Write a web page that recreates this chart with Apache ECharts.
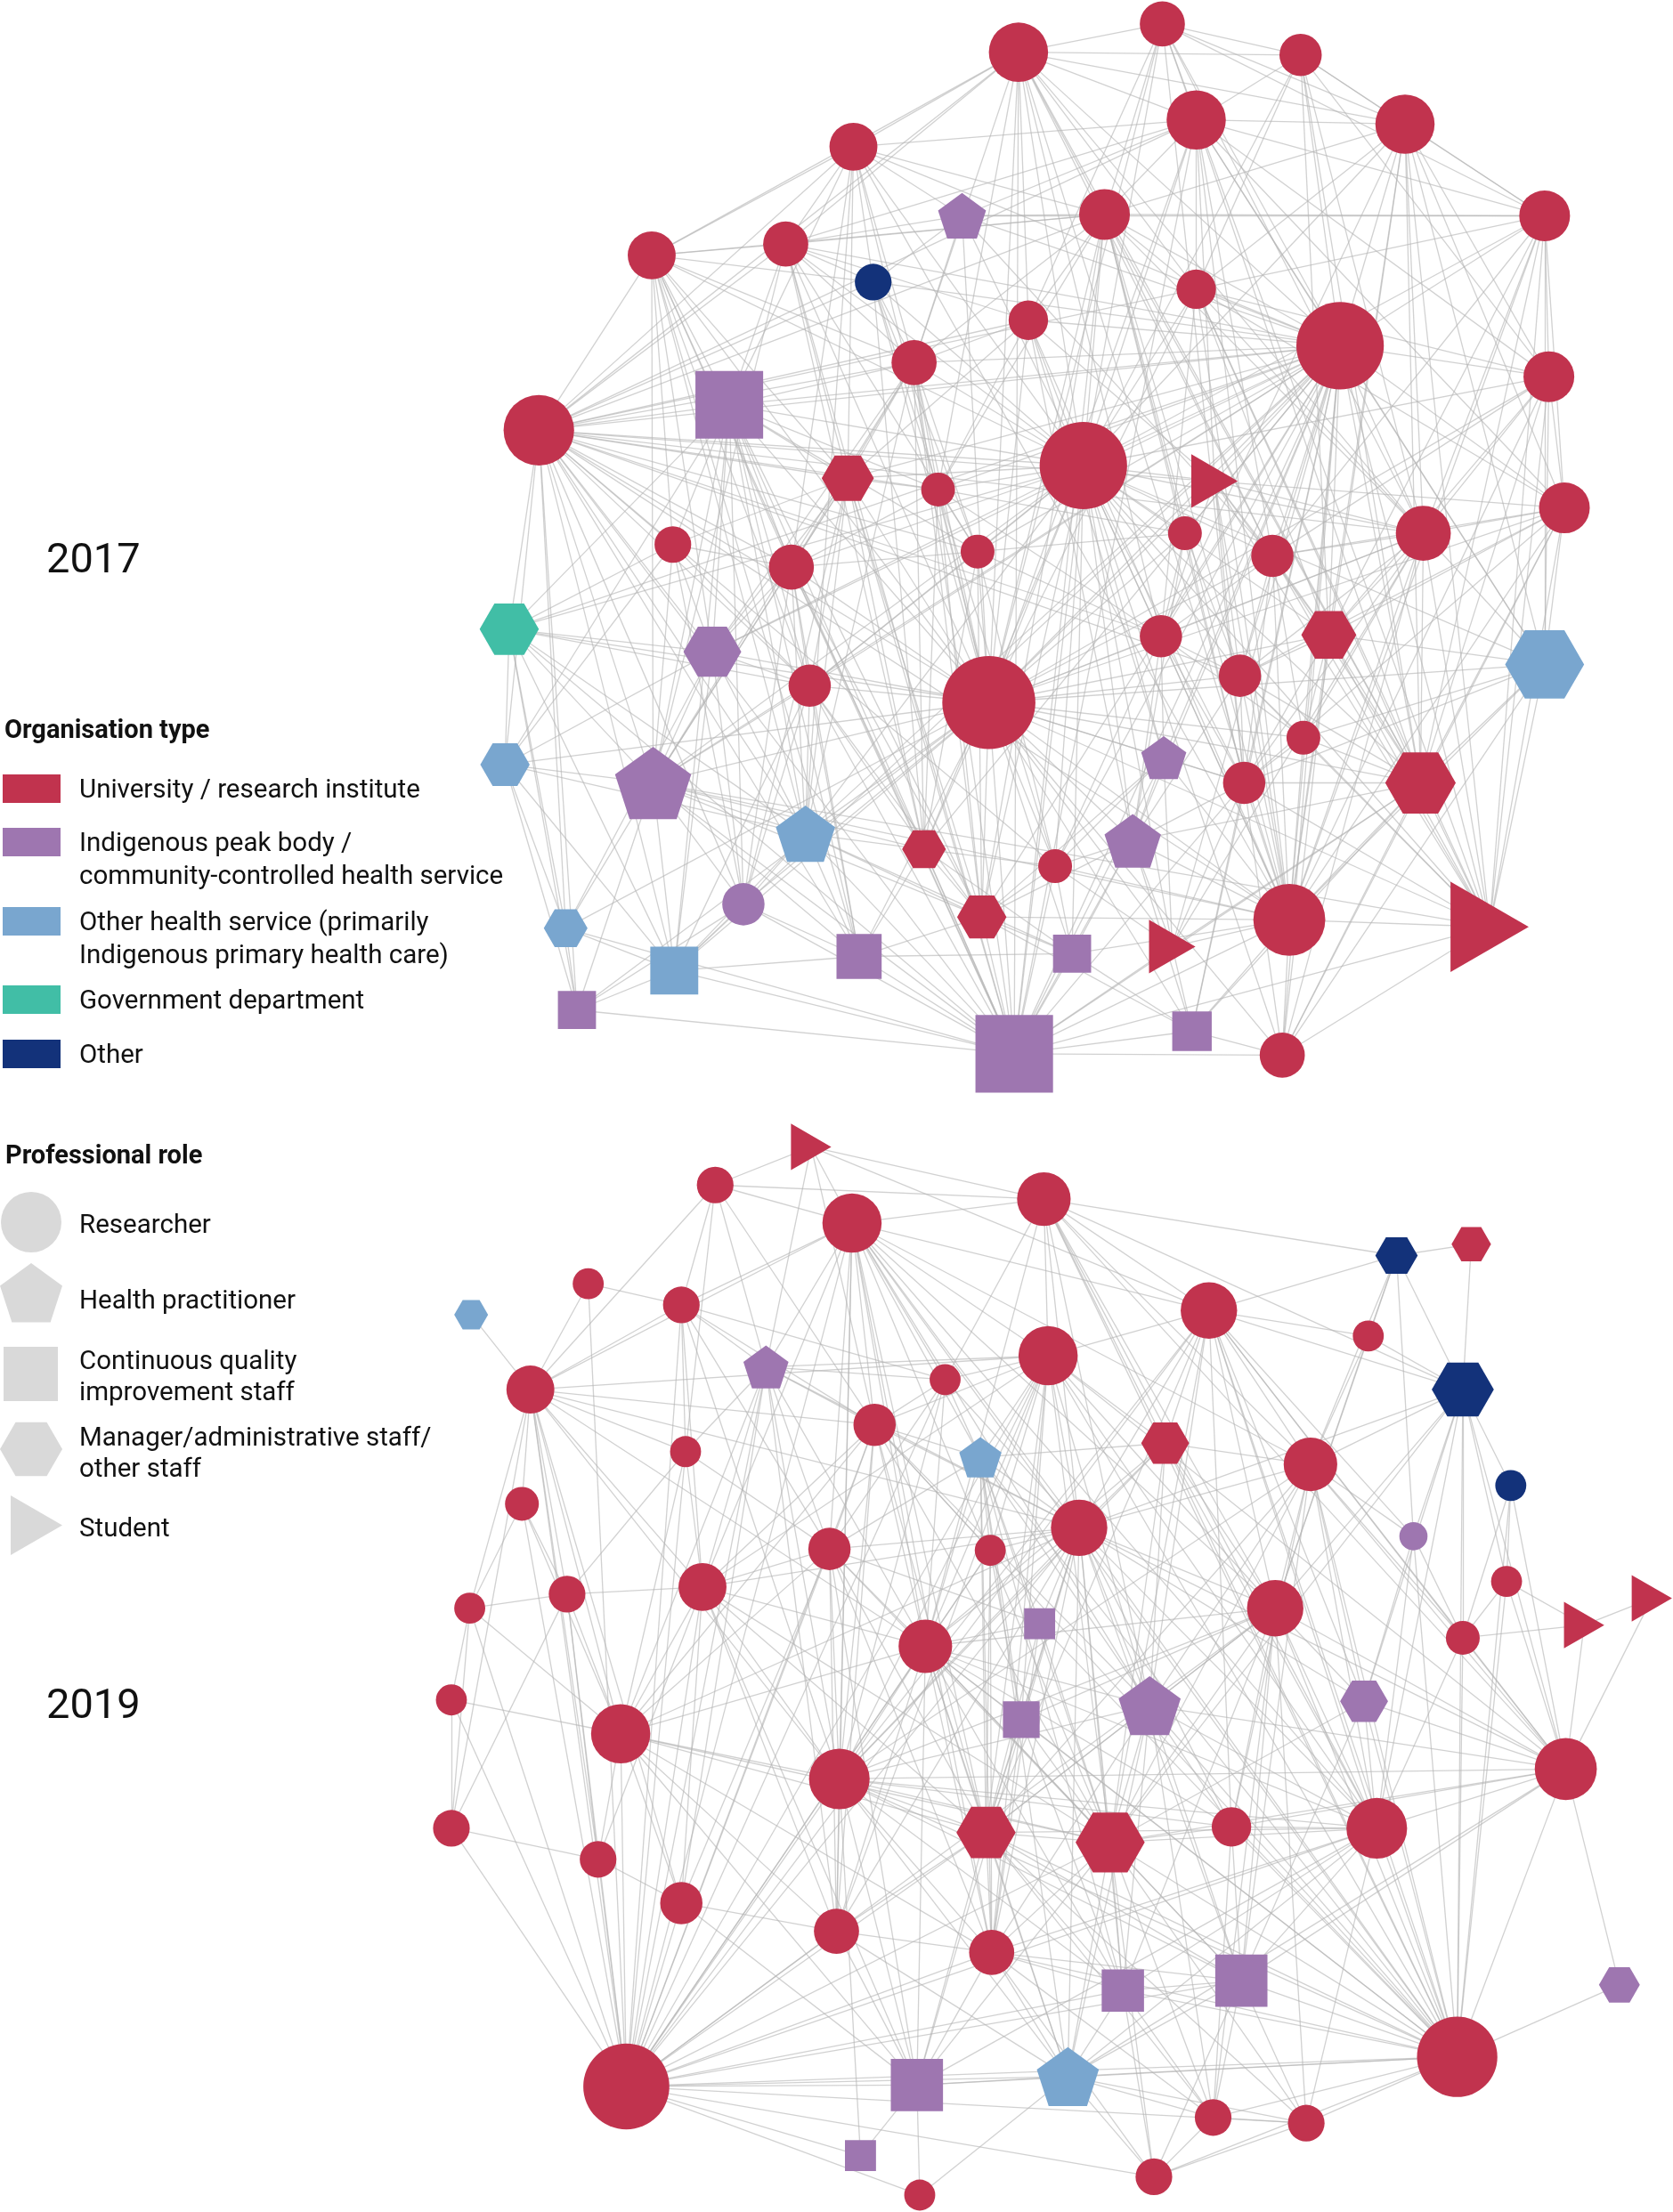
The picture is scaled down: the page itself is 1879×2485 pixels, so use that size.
<!DOCTYPE html>
<html>
<head>
<meta charset="utf-8">
<script src="https://cdn.jsdelivr.net/npm/echarts/dist/echarts.min.js"></script>
<style>html,body{margin:0;padding:0;background:#fff}#chart{width:1879px;height:2485px}</style>
</head>
<body>
<div id="chart"></div>
<script>
// ---------- legend text ----------
const orgTypeLabels = [
  ['University / research institute'],
  ['Indigenous peak body /', 'community-controlled health service'],
  ['Other health service (primarily', 'Indigenous primary health care)'],
  ['Government department'],
  ['Other']
];
const orgTypeCodes = ['U', 'I', 'H', 'G', 'O'];
const roleLabels = [
  ['Researcher'],
  ['Health practitioner'],
  ['Continuous quality', 'improvement staff'],
  ['Manager/administrative staff/', 'other staff'],
  ['Student']
];
const yearLabels = ['2017', '2019'];

// ---------- 2017 network (positions in 1186x1568 reference units) ----------
const x2017 = [722,824,922,848,996,605,682,783,1095,462,557,619,848,729,950,1098,648,517,382,768,601,665,861,1109,1009,840,477,693,902,561,361,505,823,942,879,574,701,1095,924,825,358,463,882,1007,571,655,748,803,527,401,696,609,760,831,914,1056,478,409,719,845,909];
const y2017 = [37,17,39,85,88,104,153,152,153,181,173,200,205,227,245,267,257,287,305,330,339,347,341,360,378,378,386,391,394,402,446,462,451,450,479,486,498,471,523,537,542,555,555,555,591,602,614,596,641,658,650,678,676,671,652,657,688,716,747,731,748];
const size2017 = [42,32,30,42,42,34,34,36,36,34,32,26,28,28,62,36,32,48,50,62,37,24,38,36,39,24,26,24,30,32,42,41,30,39,30,30,66,56,24,32,35,54,30,50,42,31,24,40,30,31,35,32,27,38,51,64,34,27,55,28,32];
const org2017 = 'UUUUUUIUUU' + 'UOUUUUUIUU' + 'UUUUUUUUUU' + 'GIUUUUUHUI' + 'HIUUHUUIIH' + 'UIIUUUHIII' + 'U';
const role2017 = 'ccccccpccc' + 'cccccccqcc' + 'hctccccccc' + 'hhchccchcp' + 'hpchphcpch' + 'hqqtctqqqq' + 'c';
const links2017 = [
  [2,3,4,5,6,8,10,11,13,14,15,17,19,20,22,25,29,33,37,44,55,59],
  [3,4,5,8,9,14,15,20,25,37,43,56],
  [4,5,9,13,15,16,20,25,34,44],
  [5,6,7,8,9,11,13,15,16,19,20,23,24,29,37,38,44,55,59],
  [8,9,13,15,16,20,24,25,33,34,38,44,55,56],
  [7,8,10,11,12,15,17,18,19,20,21,30,37,45,55],
  [8,9,11,12,15,17,20,29,37],
  [9,10,11,13,14,15,17,19,20,22,25,26,29,35,37,43,44,51,55,59],
  [13,15,16,20,24,25,29,34,38,44,55,56],
  [11,12,17,18,19,20,21,27,30,32,36,37,42,45,52,59],
  [12,14,15,17,18,19,20,21,28,37,42,46,59],
  [15,17,19,20,22,28,37,46],
  [15,16,19,20,24,25,33,34,37,44,55,56],
  [15,17,19,20,21,22,23,37,40,48,55],
  [16,17,18,19,20,21,22,23,24,25,26,28,29,31,32,33,34,35,36,37,38,39,40,42,43,44,45,46,47,48,51,54,55,56,57,59,60,61],
  [20,24,25,29,34,37,38,44,55,56],
  [18,19,20,21,22,28,30,32,37,42,45,46,51,59],
  [19,20,21,22,27,28,30,31,32,36,37,41,42,45,49,51,52,57,59],
  [20,21,22,24,25,27,28,30,31,32,33,35,36,37,41,42,45,47,49,50,52,55,57,58,59],
  [21,22,23,25,26,28,29,30,31,32,33,34,35,36,37,38,40,42,43,44,45,46,47,48,51,53,54,55,56,59,61],
  [22,27,30,32,36,37,42,45,46,49,51,59],
  [26,28,30,33,37,46,47,51],
  [25,29,33,34,35,37,43,55,56],
  [25,29,34,35,37,38,43,44,55,56,61],
  [29,33,34,35,37,38,39,43,44,54,55,56,61],
  [28,33,35,37,43,48],
  [30,31,32,36,41,42,49],
  [30,33,36,37,46,47,51],
  [33,34,35,37,39,43,44,55,56],
  [32,36,37,42,45,46,49,51,52,59],
  [32,36,37,41,42,45,50,57,58,59],
  [36,37,41,42,45,49,50,57],
  [35,37,39,40,43,47,48,55],
  [35,37,38,39,43,44,55,56,61],
  [37,39,43,44,48,55,56],
  [37,42,45,46,49,51,52,57,59],
  [38,39,40,41,42,43,44,45,46,47,48,49,50,51,52,53,54,55,56,57,58,59,60,61],
  [39,43,44,55,56,61],
  [43,44,55,56],
  [43,47,48,51,54,55,59],
  [42,45,50,57,58],
  [45,46,49,50,51,52,55,56,57,58,59],
  [44,48,54,55,56,59,60,61],
  [48,54,55,56,59,60,61],
  [46,49,51,52,53,57,59],
  [47,51,52,53,59],
  [48,51,53,54,55,59],
  [51,53,54,55,59,60],
  [52,57,58,59],
  [57,58,59],
  [52,53,55,59,60],
  [53,57,59],
  [55,59,60],
  [55,59,60],
  [56,59,60,61],
  [59,61],
  [58,59],
  [59],
  [60,61],
  [61],
  []
];

// ---------- 2019 network ----------
const x2019 = [575,507,740,604,990,1043,417,334,483,857,743,543,970,670,376,1037,620,826,486,695,929,1071,370,765,588,702,1002,1068,498,402,333,904,737,1123,1171,1037,656,320,967,815,724,440,1110,595,699,787,873,976,320,424,483,593,703,796,880,1148,444,1033,650,757,860,926,610,818,652];
const y2019 = [813,840,850,867,890,882,910,932,925,929,961,969,947,978,985,985,1010,1023,1029,1033,1038,1053,1066,1083,1098,1099,1089,1121,1125,1130,1140,1140,1151,1152,1133,1161,1167,1205,1206,1209,1219,1229,1254,1261,1299,1306,1295,1296,1296,1318,1349,1369,1384,1411,1404,1407,1479,1458,1478,1472,1501,1505,1528,1543,1556];
const size2019 = [33,26,38,42,30,28,22,24,26,40,42,32,22,22,34,44,30,34,22,30,38,22,24,40,30,22,20,22,34,26,22,40,22,33,33,24,38,22,34,44,26,42,44,43,42,49,28,43,26,26,30,32,32,30,37,29,61,57,37,44,26,26,22,26,22];
const org2019 = 'UUUUOUUHUU' + 'UIUUUOUUUH' + 'UOUUUUIUUU' + 'UUIUUUUUII' + 'IUUUUUUUUU' + 'UUUIIIUUIH' + 'UUIUU';
const role2019 = 'tccchhchcc' + 'cpccchchcp' + 'cccccccccc' + 'ccqttccchp' + 'qccchhcccc' + 'cccqqhccqp' + 'ccqcc';
const links2019 = [
  [2,3,4,10,12,17],
  [3,4,9,12,15,17,19],
  [4,5,10,11,14,16,18,21,24,32,37,40,43,48,58],
  [9,10,11,12,14,15,17,20,21,24,25,29,32,37,40,44,45,46,48,52,53,57,58],
  [6,10,13,16,21,27,32],
  [16],
  [9,15,57],
  [15],
  [12,14,15,17,19,25,29,44,57],
  [11,13,16,18,21,24,27,32,36,39,40,43,44,45,46,47,48,57,58],
  [12,14,15,17,18,20,24,26,29,32,37,40,41,43,44,45,46,48,52,53,57,58],
  [14,17,19,24,25,29,37,42,44,51,52,57],
  [16,21,32],
  [17,20,24,25,37,44,57],
  [17,19,23,24,29,30,31,37,42,44,49,50,51,57],
  [21,22,24,27,28,32,36,39,43,46,48,58],
  [20,24,25,26,29,37,40,42,44,45,46,52,57,58],
  [20,21,24,32,37,40,44,46,48,58],
  [25,29,30,42,57],
  [24,25,26,33,37,40,41,45,46,53,54,58,60],
  [24,27,32,36,39,40,43,44,45,46,47,48,55,58],
  [28,36,43,58],
  [30,31,42,57],
  [25,26,29,32,33,37,39,40,41,42,43,44,45,46,47,48,52,53,54,55,57,58,59,60],
  [29,33,37,42,44,45,46,51,52,53,57,59],
  [37,41,45,53,57],
  [36,39,48,58],
  [34,36,43,58],
  [30,37,42,44,45,46,50,51,52,57,59],
  [31,42,49,50,57],
  [38,42,49,57],
  [37,39,40,41,43,44,45,46,47,48,54,55,57,58,61,62],
  [37,45,46,53,58],
  [35,36,43],
  [43],
  [43,48,58],
  [40,41,42,44,45,46,47,48,52,53,54,55,57,58,59,60],
  [42,49,57],
  [43,46,48,55,58],
  [43,44,45,46,47,48,53,54,55,58,60,61],
  [45,46,53,54,58],
  [44,45,46,50,51,52,53,57,59],
  [44,46,47,48,55,56,58,60],
  [45,46,47,48,52,53,54,55,57,58,59,60,63],
  [46,48,52,53,54,55,57,58,59,60,61,62],
  [47,48,53,54,55,57,58,59,60,61,62,64],
  [48,55,58,61],
  [53,54,55,57,58,59,60,62],
  [50,57],
  [51,57],
  [52,57,59],
  [53,57,59,60],
  [54,55,57,58,59,60,61,64],
  [55,57,58,60,61,64],
  [57,58,60,61,62,64],
  [58],
  [58,59,60,62,63,64,65],
  [59,60,61,62,64],
  [60,63,65],
  [61,62,64,65],
  [62,64],
  [64],
  [],
  [],
  []
];

// ---------- styling ----------
const SCALE = 1879 / 1186;
const COLORS = { U: '#C1334E', I: '#9E76B0', H: '#79A6CF', G: '#41BEA6', O: '#13327A' };
const LEGEND_GREY = '#D9D9D9';
const SYMBOLS = {
  c: 'circle',
  p: 'path://M50,0L97.55,34.55L79.39,90.45L20.61,90.45L2.45,34.55Z',
  q: 'rect',
  h: 'path://M0,43.3L25,0L75,0L100,43.3L75,86.6L25,86.6Z',
  t: 'path://M0,0L86.6,50L0,100Z'
};
const FONT = 'Roboto, "Noto Sans", sans-serif';

function buildGraph(name, xs, ys, sizes, orgs, roles, adj) {
  const data = xs.map((x, i) => ({
    value: [x, ys[i]],
    symbol: SYMBOLS[roles[i]],
    symbolSize: sizes[i] * SCALE,
    symbolKeepAspect: true,
    itemStyle: { color: COLORS[orgs[i]] }
  }));
  const links = [];
  const seen = new Set();
  adj.forEach((list, i) => list.forEach(j => {
    const a = Math.min(i, j - 1), b = Math.max(i, j - 1);
    const key = a + '-' + b;
    if (a !== b && !seen.has(key)) { seen.add(key); links.push({ source: a, target: b }); }
  }));
  return {
    type: 'graph', name: name, coordinateSystem: 'cartesian2d',
    xAxisIndex: 0, yAxisIndex: 0, layout: 'none',
    symbolKeepAspect: true,
    data: data, links: links,
    edgeSymbol: ['none', 'none'],
    lineStyle: { color: '#b5b5b5', width: 1.3, opacity: 0.62, curveness: 0 },
    label: { show: false },
    emphasis: { disabled: true },
    silent: true,
    animation: false
  };
}

// ---------- legend graphics ----------
const graphics = [];
function txt(x, y, s, bold, size) {
  graphics.push({ type: 'text', x: x, y: y, silent: true,
    style: { text: s, font: (bold ? 'bold ' : '') + size + 'px ' + FONT, fill: '#111', verticalAlign: 'middle', align: 'left' } });
}
// year labels
txt(52, 631, yearLabels[0], false, 47);
txt(52, 1918, yearLabels[1], false, 47);
// organisation type
txt(5, 822, 'Organisation type', true, 29);
const orgSwatchY = [886, 946, 1035, 1123, 1184];
orgTypeCodes.forEach((code, i) => {
  graphics.push({ type: 'rect', silent: true, shape: { x: 3, y: orgSwatchY[i] - 16, width: 65, height: 32 }, style: { fill: COLORS[code] } });
  orgTypeLabels[i].forEach((line, k) => txt(89, orgSwatchY[i] + 3 + k * 36.5, line, false, 29.5));
});
// professional role
txt(6, 1300, 'Professional role', true, 29);
graphics.push({ type: 'circle', silent: true, shape: { cx: 35, cy: 1373, r: 34 }, style: { fill: LEGEND_GREY } });
(function () {
  const R = 36.8, cx = 35, cy = 1419 + 36.8, pts = [];
  for (let k = 0; k < 5; k++) { const a = -Math.PI / 2 + k * 2 * Math.PI / 5; pts.push([cx + R * Math.cos(a), cy + R * Math.sin(a)]); }
  graphics.push({ type: 'polygon', silent: true, shape: { points: pts }, style: { fill: LEGEND_GREY } });
})();
graphics.push({ type: 'rect', silent: true, shape: { x: 4, y: 1513, width: 61, height: 61 }, style: { fill: LEGEND_GREY } });
graphics.push({ type: 'polygon', silent: true, shape: { points: [[0, 1628], [17.5, 1597.7], [52.5, 1597.7], [70, 1628], [52.5, 1658.3], [17.5, 1658.3]] }, style: { fill: LEGEND_GREY } });
graphics.push({ type: 'polygon', silent: true, shape: { points: [[12, 1680], [70, 1713.5], [12, 1747]] }, style: { fill: LEGEND_GREY } });
const roleTextY = [[1378], [1463], [1531, 1566], [1617, 1652], [1719]];
roleLabels.forEach((lines, i) => lines.forEach((line, k) => txt(89, roleTextY[i][k], line, false, 29.5)));

const chart = echarts.init(document.getElementById('chart'), null, { renderer: 'canvas' });
chart.setOption({
  backgroundColor: '#ffffff',
  animation: false,
  grid: { left: 0, right: 0, top: 0, bottom: 0 },
  xAxis: { type: 'value', min: 0, max: 1186, show: false },
  yAxis: { type: 'value', min: 0, max: 1568, inverse: true, show: false },
  series: [
    buildGraph('2017', x2017, y2017, size2017, org2017, role2017, links2017),
    buildGraph('2019', x2019, y2019, size2019, org2019, role2019, links2019)
  ],
  graphic: graphics
});
</script>
</body>
</html>
